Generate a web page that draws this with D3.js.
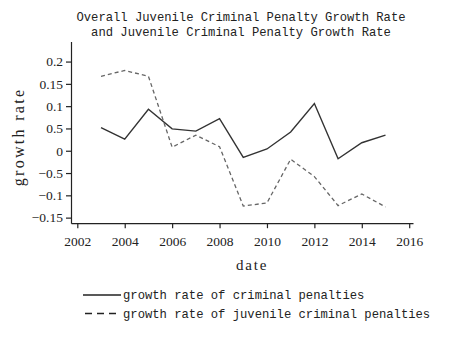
<!DOCTYPE html>
<html>
<head>
<meta charset="utf-8">
<script src="https://cdn.jsdelivr.net/npm/d3@7"></script>
<style>
  body { margin: 0; background: #fff; }
  svg { display: block; }
</style>
</head>
<body>
<div id="chart"></div>
<script>
// yearly growth rates
const years = [2003, 2004, 2005, 2006, 2007, 2008, 2009, 2010, 2011, 2012, 2013, 2014, 2015];
const criminalRate = [0.052, 0.026, 0.093, 0.049, 0.044, 0.072, -0.015, 0.004, 0.042, 0.106, -0.018, 0.018, 0.035];
const juvenileRate = [0.167, 0.180, 0.167, 0.008, 0.035, 0.009, -0.124, -0.117, -0.019, -0.058, -0.123, -0.097, -0.126];

// axis ticks
const yTicks = [0.2, 0.15, 0.1, 0.05, 0, -0.05, -0.1, -0.15];
const yTickLabels = ["0.2", "0.15", "0.1", "0.5", "0", "\u22120.5", "\u22120.1", "\u22120.15"];
const xTicks = [2002, 2004, 2006, 2008, 2010, 2012, 2014, 2016];

const seriesNames = ["growth rate of criminal penalties", "growth rate of juvenile criminal penalties"];
const titleLines = ["Overall Juvenile Criminal Penalty Growth Rate", "and Juvenile Criminal Penalty Growth Rate"];

const width = 460, height = 341;
const plot = { left: 71, right: 413, top: 41.5, bottom: 223.2 };

const svg = d3.select("#chart")
  .append("svg")
    .attr("width", width)
    .attr("height", height);

const x = d3.scaleLinear().domain([2001.734, 2016.16]).range([plot.left, plot.right]);
const y = d3.scaleLinear().domain([-0.1625, 0.245]).range([plot.bottom, plot.top]);

const mono = "'Liberation Mono', 'Courier New', monospace";
const serif = "'Liberation Serif', 'Times New Roman', serif";

// title
svg.append("g")
  .selectAll("text")
  .data(titleLines)
  .join("text")
    .attr("x", 241)
    .attr("y", (d, i) => 21 + i * 14.5)
    .attr("text-anchor", "middle")
    .style("font-family", mono)
    .style("font-size", "12.2px")
    .style("fill", "#222")
    .text(d => d);

// axes
const yAxis = svg.append("g")
  .attr("transform", `translate(${plot.left},0)`)
  .call(d3.axisLeft(y)
    .tickValues(yTicks)
    .tickFormat((d, i) => yTickLabels[i])
    .tickSize(5)
    .tickSizeOuter(0)
    .tickPadding(3));

const xAxis = svg.append("g")
  .attr("transform", `translate(0,${plot.bottom})`)
  .call(d3.axisBottom(x)
    .tickValues(xTicks)
    .tickFormat(d3.format("d"))
    .tickSize(5)
    .tickSizeOuter(0)
    .tickPadding(8));

[yAxis, xAxis].forEach(g => {
  g.selectAll("path, line").attr("stroke", "#222").attr("stroke-width", 1.2);
  g.selectAll("text")
    .style("font-family", serif)
    .style("font-size", "13.5px")
    .style("fill", "#222");
});

// axis titles
svg.append("text")
  .attr("transform", "translate(24,137) rotate(-90)")
  .attr("text-anchor", "middle")
  .style("font-family", serif)
  .style("font-size", "16px")
  .style("letter-spacing", "2.3px")
  .style("fill", "#222")
  .text("growth rate");

svg.append("text")
  .attr("x", 252)
  .attr("y", 270)
  .attr("text-anchor", "middle")
  .style("font-family", serif)
  .style("font-size", "15px")
  .style("letter-spacing", "1.8px")
  .style("fill", "#222")
  .text("date");

// lines
const line = d3.line()
  .x(d => x(d[0]))
  .y(d => y(d[1]));

const series = [
  { values: criminalRate, color: "#333", dash: null, width: 1.4 },
  { values: juvenileRate, color: "#666", dash: "4,3", width: 1.3 }
];

svg.selectAll(".series")
  .data(series)
  .join("path")
    .attr("class", "series")
    .attr("d", s => line(years.map((yr, i) => [yr, s.values[i]])))
    .attr("fill", "none")
    .attr("stroke", s => s.color)
    .attr("stroke-width", s => s.width)
    .attr("stroke-dasharray", s => s.dash);

// legend
const legendItems = svg.append("g")
  .selectAll("g")
  .data(series)
  .join("g")
    .attr("transform", (d, i) => `translate(0,${295 + i * 18.5})`);

legendItems.append("line")
  .attr("x1", (d, i) => i ? 85 : 83)
  .attr("x2", 121)
  .attr("stroke", "#222")
  .attr("stroke-width", 1.3)
  .attr("stroke-dasharray", (d, i) => i ? "7,5" : null);

legendItems.append("text")
  .attr("x", 123)
  .attr("y", 4)
  .style("font-family", mono)
  .style("font-size", "12.2px")
  .style("fill", "#222")
  .text((d, i) => seriesNames[i]);
</script>
</body>
</html>
